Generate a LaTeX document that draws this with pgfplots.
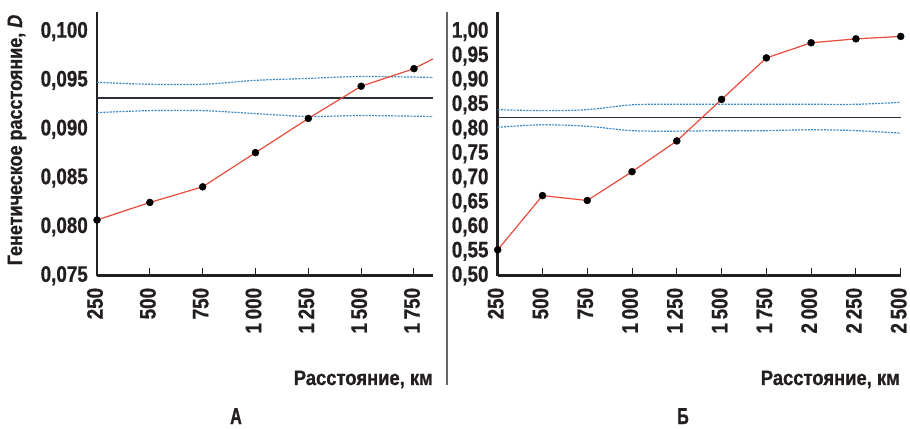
\documentclass[border=0pt]{standalone}
\usepackage{fontspec}
\setmainfont{Liberation Sans}[BoldFont={Liberation Sans Bold}, BoldItalicFont={Liberation Sans Bold Italic}]
\newfontfamily\tickfont{Liberation Sans Bold}[FakeStretch=0.84, FakeBold=0.8]
\newfontfamily\labfont{Liberation Sans Bold}[FakeStretch=0.88, FakeBold=0.8]
\newfontfamily\bigfont{Liberation Sans Bold}[FakeStretch=0.7, FakeBold=1]
\newfontfamily\ylabfont{Liberation Sans Bold}[FakeStretch=0.86, FakeBold=0.8, ItalicFont={Liberation Sans Bold Italic}]
\usepackage{pgfplots}
\pgfplotsset{compat=1.18}
\definecolor{redl}{HTML}{E94B3C}
\definecolor{bluel}{HTML}{3A88C8}
\definecolor{axc}{HTML}{231F20}
\definecolor{hl}{HTML}{2B2E3C}
\pgfplotsset{panel/.style={
  scale only axis, height=263.7bp,
  axis lines*=left,
  axis line style={line width=2.5bp, color=axc},
  tick align=inside,
  ytick style={draw=none},
  xtick style={line width=1bp, color=axc},
  major tick length=8bp,
  tick label style={font=\tickfont\fontsize{22.5}{22.5}\selectfont, text=axc},
  /pgf/number format/assume math mode=true,
  scaled y ticks=false, scaled x ticks=false,
  yticklabel style={anchor=east, inner sep=0pt, xshift=-9bp,
     /pgf/number format/.cd, fixed, fixed zerofill, use comma},
  xticklabel style={rotate=90, anchor=east, inner sep=0pt, xshift=-12bp, yshift=2bp,
     /pgf/number format/.cd, fixed, precision=0, 1000 sep={\,}},
  clip=false,
  redline/.style={color=redl, line width=1.2bp, no marks},
  dots/.style={only marks, mark=*, mark size=3.5bp, color=black},
  hline/.style={color=hl, line width=1.6bp, no marks},
  dline/.style={color=bluel, line width=1.2bp, no marks, dash pattern=on 2bp off 1.2bp, smooth, tension=0.5},
}}
\begin{document}
\begin{tikzpicture}
\path[use as bounding box] (0,0) rectangle (910bp,429bp);
% Panel A
\begin{axis}[panel, at={(97bp,153.3bp)}, anchor=south west, width=336bp,
  xmin=250, xmax=1840, ymin=0.075, ymax=0.102,
  xtick={250,500,750,1000,1250,1500,1750},
  ytick={0.075,0.080,0.085,0.090,0.095,0.100},
  yticklabel style={/pgf/number format/precision=3}]
\addplot[dline] coordinates {(250,0.0948)(500,0.0946)(750,0.0946)(1000,0.0950)(1250,0.0952)(1500,0.0954)(1840,0.0953)};
\addplot[dline] coordinates {(250,0.0917)(500,0.0919)(750,0.0919)(1000,0.0916)(1250,0.0913)(1500,0.0914)(1840,0.0913)};
\addplot[hline] coordinates {(250,0.0932)(1840,0.0932)};
\addplot[redline] coordinates {(250,0.0807)(500,0.0825)(750,0.0841)(1000,0.0876)(1250,0.0911)(1500,0.0944)(1750,0.0962)(1840,0.0972)};
\addplot[dots] coordinates {(250,0.0807)(500,0.0825)(750,0.0841)(1000,0.0876)(1250,0.0911)(1500,0.0944)(1750,0.0962)};
\end{axis}
% Panel B
\begin{axis}[panel, at={(497.7bp,153.3bp)}, anchor=south west, width=403bp,
  xmin=250, xmax=2500, ymin=0.50, ymax=1.04,
  xtick={250,500,750,1000,1250,1500,1750,2000,2250,2500},
  ytick={0.50,0.55,0.60,0.65,0.70,0.75,0.80,0.85,0.90,0.95,1.00},
  yticklabel style={/pgf/number format/precision=2}]
\addplot[dline] coordinates {(250,0.840)(500,0.838)(750,0.840)(1000,0.850)(1250,0.851)(1500,0.851)(1750,0.851)(2000,0.851)(2250,0.851)(2500,0.855)};
\addplot[dline] coordinates {(250,0.804)(500,0.809)(750,0.806)(1000,0.797)(1250,0.796)(1500,0.797)(1750,0.797)(2000,0.799)(2250,0.797)(2500,0.792)};
\addplot[hline] coordinates {(250,0.824)(2500,0.824)};
\addplot[redline] coordinates {(250,0.553)(500,0.664)(750,0.654)(1000,0.713)(1250,0.776)(1500,0.861)(1750,0.946)(2000,0.977)(2250,0.985)(2500,0.990)};
\addplot[dots] coordinates {(250,0.553)(500,0.664)(750,0.654)(1000,0.713)(1250,0.776)(1500,0.861)(1750,0.946)(2000,0.977)(2250,0.985)(2500,0.990)};
\end{axis}
% separator
\draw[color=gray!80!black, line width=1.5bp] (447bp,44bp) -- (447bp,417bp);
% labels
\node[rotate=90, font=\ylabfont\fontsize{21}{21}\selectfont, text=axc] at (17bp,289bp) {Генетическое расстояние, \textit{D}};
\node[anchor=base east, font=\labfont\fontsize{21}{21}\selectfont, text=axc, inner sep=0pt] at (433bp,44bp) {Расстояние, км};
\node[anchor=base east, font=\labfont\fontsize{21}{21}\selectfont, text=axc, inner sep=0pt] at (900bp,44bp) {Расстояние, км};
\node[anchor=base, font=\bigfont\fontsize{23}{23}\selectfont, text=axc, inner sep=0pt] at (236bp,5bp) {А};
\node[anchor=base, font=\bigfont\fontsize{23}{23}\selectfont, text=axc, inner sep=0pt] at (683bp,5bp) {Б};
\end{tikzpicture}
\end{document}
